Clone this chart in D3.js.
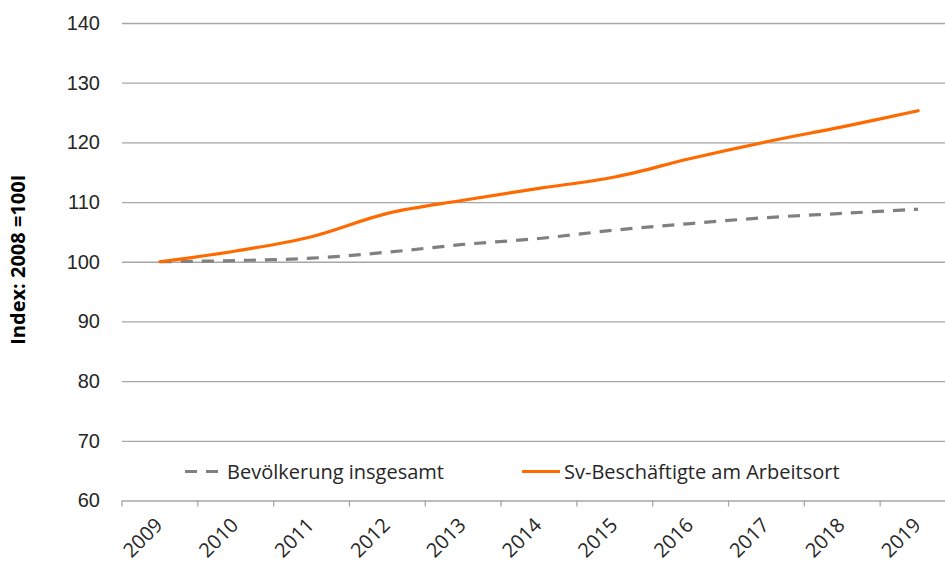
<!DOCTYPE html>
<html>
<head>
<meta charset="utf-8">
<script src="https://cdn.jsdelivr.net/npm/d3@7"></script>
<style>
  body { margin: 0; background: #fff; }
  svg { display: block; font-family: "Open Sans", "Noto Sans", sans-serif; }
</style>
</head>
<body>
<div id="chart"></div>
<script>

// Data (index, 2008 = 100):
const years = ["2009", "2010", "2011", "2012", "2013", "2014", "2015", "2016", "2017", "2018", "2019"];
const bevoelkerung = [100, 100.2, 100.6, 101.6, 102.9, 103.9, 105.3, 106.4, 107.4, 108.1, 108.8];
const beschaeftigte = [100, 101.8, 104.2, 108.1, 110.3, 112.3, 114.2, 117.3, 120.1, 122.6, 125.3];
const yTicks = [60, 70, 80, 90, 100, 110, 120, 130, 140];
const seriesNames = ["Bevölkerung insgesamt", "Sv-Beschäftigte am Arbeitsort"];


// Dimensions (the plot runs a bit past the right edge, as in the original):
const WIDTH = 945, HEIGHT = 565;
const PLOT_LEFT = 122, PLOT_RIGHT = 956;
const PLOT_TOP = 23, PLOT_BOTTOM = 500.5;

const GREY = "#808080", ORANGE = "#ff6a00", TEXT = "#262626";
const FONT_SIZE = 20;

let svg = d3.select("#chart").append("svg")
    .attr("width", WIDTH)
    .attr("height", HEIGHT);

let x = d3.scaleBand()
    .domain(years)
    .range([PLOT_LEFT, PLOT_RIGHT])
    .padding(0);

let y = d3.scaleLinear()
    .domain([60, 140])
    .range([PLOT_BOTTOM, PLOT_TOP]);


// horizontal gridlines + y labels
let yAxis = svg.append("g")
    .attr("transform", "translate(" + PLOT_LEFT + ",0)")
    .call(d3.axisLeft(y)
        .tickValues(yTicks)
        .tickSize(-(PLOT_RIGHT - PLOT_LEFT))
        .tickPadding(22)
        .tickFormat(d3.format("d")));
yAxis.select(".domain").remove();
yAxis.selectAll(".tick line")
    .attr("stroke", "#a6a6a6")
    .attr("stroke-width", 1.3);
yAxis.selectAll(".tick text")
    .attr("fill", TEXT)
    .attr("font-size", FONT_SIZE);

// the 60 gridline doubles as the x axis, ticks sit between categories
let xAxis = svg.append("g")
    .attr("transform", "translate(0," + PLOT_BOTTOM + ")");
xAxis.selectAll("line.sep")
    .data(years)
    .enter()
    .append("line")
        .attr("class", "sep")
        .attr("x1", d => x(d))
        .attr("x2", d => x(d))
        .attr("y1", 0)
        .attr("y2", 6)
        .attr("stroke", "#a6a6a6")
        .attr("stroke-width", 1.3);

xAxis.selectAll("text")
    .data(years)
    .enter()
    .append("text")
        .attr("transform", d => "translate(" + (x(d) + x.bandwidth() / 2 - 6) + ",16) rotate(-45)")
        .attr("text-anchor", "end")
        .attr("dy", "0.7em")
        .attr("fill", TEXT)
        .attr("font-size", FONT_SIZE)
        .text(d => d);


// y axis title
svg.append("text")
    .attr("transform", "translate(25," + ((PLOT_TOP + PLOT_BOTTOM) / 2 - 2) + ") rotate(-90)")
    .attr("text-anchor", "middle")
    .attr("font-weight", "bold")
    .attr("font-size", 20)
    .attr("fill", "#000")
    .text("Index: 2008 =100I");


// lines (smoothed like the spreadsheet original)
let line = d3.line()
    .x((d, i) => x(years[i]) + x.bandwidth() / 2)
    .y(d => y(d))
    .curve(d3.curveCardinal.tension(0));

svg.append("path")
    .datum(bevoelkerung)
    .attr("d", line)
    .attr("fill", "none")
    .attr("stroke", GREY)
    .attr("stroke-width", 3.2)
    .attr("stroke-dasharray", "12,9");

svg.append("path")
    .datum(beschaeftigte)
    .attr("d", line)
    .attr("fill", "none")
    .attr("stroke", ORANGE)
    .attr("stroke-width", 3.2)
    .attr("stroke-linecap", "round");


// legend
let legendItems = [
  { name: seriesNames[0], color: GREY, dash: "12,9", x: 185 },
  { name: seriesNames[1], color: ORANGE, dash: null, x: 522 }
];

let legend = svg.append("g")
    .attr("transform", "translate(0,471.5)");

let items = legend.selectAll("g")
    .data(legendItems)
    .enter()
    .append("g")
        .attr("transform", d => "translate(" + d.x + ",0)");

items.append("line")
    .attr("x1", 0)
    .attr("x2", 38)
    .attr("stroke", d => d.color)
    .attr("stroke-width", 3.2)
    .attr("stroke-dasharray", d => d.dash);

items.append("text")
    .attr("x", 42)
    .attr("dy", "0.35em")
    .attr("fill", TEXT)
    .attr("font-size", FONT_SIZE)
    .text(d => d.name);

</script>
</body>
</html>
